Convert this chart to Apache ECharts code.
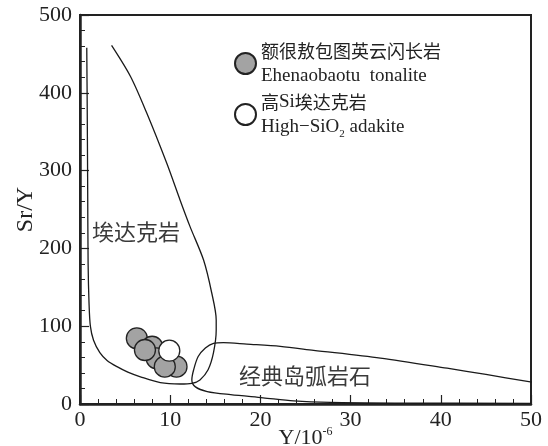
<!DOCTYPE html>
<html><head><meta charset="utf-8">
<script src="https://cdn.jsdelivr.net/npm/echarts@6/dist/echarts.min.js"></script>
<style>html,body{margin:0;padding:0;background:#fff}#c{width:548px;height:446px}</style>
</head><body><div id="c"></div>
<script>
// ---- data ----
const xTickLabels = ['0','10','20','30','40','50'];
const yTickLabels = ['0','100','200','300','400','500'];

// Ehenaobaotu tonalite (Y, Sr/Y)
const tonaliteY   = [6.3, 8.0, 8.5, 10.7, 7.2, 9.4];
const tonaliteSrY = [84.4, 73.6, 58.7, 48.0, 69.4, 48.0];

// High-SiO2 adakite
const adakiteY   = [9.9];
const adakiteSrY = [68.5];

// Adakite field boundary
const adakiteFieldY   = [0.75,0.8,0.85,0.9,1.0,1.15,1.5,2.2,3.0,4.1,5.3,6.7,8.9,11.1,12.4,13.3,14.2,14.8,15.1,15.1,14.6,13.7,12.2,11.1,9.6,7.4,5.6,3.5];
const adakiteFieldSrY = [458,380,280,180,130,100,82,66,56,48,41,35,27.5,25.7,26.6,31,44,66,95,108,143,185,228,262,310,374,421,461];

// Classic island-arc field boundary
const arcFieldY   = [50.1,45,40.7,33.3,25.9,22.2,18.5,15.9,14.8,13.9,13.1,12.6,12.4,12.8,14.1,16.7,20.3,23.7,27.8,35,50];
const arcFieldSrY = [28,38,46,59,69,74,77,79,78,72,61,44,31,22,16,12,8,4,2,1.2,0.8];

const tonaliteName = 'tonalite';
const adakiteName = 'adakite';

const zip = (a, b) => a.map((v, i) => [v, b[i]]);

const serif = 'Liberation Serif';
const cjk = 'Noto Sans CJK SC';
const ink = '#222';

const chart = echarts.init(document.getElementById('c'));
chart.setOption({
  animation: false,
  backgroundColor: '#fff',
  grid: { left: 80, right: 17, top: 15, bottom: 42, show: true, borderColor: ink, borderWidth: 2,
    backgroundColor: 'transparent', containLabel: false, outerBoundsMode: 'none' },
  xAxis: {
    type: 'value', min: 0, max: 50, interval: 10,
    axisLine: { show: true, lineStyle: { color: ink, width: 2.5 } },
    axisTick: { show: true, inside: true, length: 9, lineStyle: { color: ink, width: 1.2 } },
    minorTick: { show: true, splitNumber: 5, length: 5, lineStyle: { color: ink, width: 1 } },
    splitLine: { show: false },
    axisLabel: { color: ink, fontFamily: serif, fontSize: 22, margin: 5,
      formatter: v => xTickLabels[Math.round(v / 10)] },
    name: '{a|Y/10}{sup|-6}', nameLocation: 'middle', nameGap: 22, nameMoveOverlap: false,
    nameTextStyle: { rich: {
      a: { fontFamily: serif, fontSize: 22, color: ink, lineHeight: 24 },
      sup: { fontFamily: serif, fontSize: 12, color: ink, lineHeight: 13, verticalAlign: 'top' }
    } }
  },
  yAxis: {
    type: 'value', min: 0, max: 500, interval: 100,
    axisLine: { show: true, lineStyle: { color: ink, width: 2.5 } },
    axisTick: { show: true, inside: true, length: 9, lineStyle: { color: ink, width: 1.2 } },
    minorTick: { show: true, splitNumber: 5, length: 5, lineStyle: { color: ink, width: 1 } },
    splitLine: { show: false },
    axisLabel: { color: ink, fontFamily: serif, fontSize: 22, margin: 8,
      formatter: v => yTickLabels[Math.round(v / 100)] },
    name: 'Sr/Y', nameLocation: 'middle', nameGap: 42, nameMoveOverlap: false,
    nameTextStyle: { fontFamily: serif, fontSize: 24, color: ink }
  },
  legend: {
    data: [tonaliteName, adakiteName],
    orient: 'vertical', left: 234, top: 42, itemGap: 7, padding: 0,
    itemWidth: 21, itemHeight: 21, icon: 'circle',
    formatter: function (name) {
      if (name === tonaliteName) return '{zh|额很敖包图英云闪长岩}\n{en|Ehenaobaotu  tonalite}';
      return '{zh|高}{en|Si}{zh|埃达克岩}\n{en|High−SiO}{sub|2}{en| adakite}';
    },
    textStyle: { rich: {
      zh: { fontFamily: cjk, fontSize: 18, color: ink, lineHeight: 25 },
      en: { fontFamily: serif, fontSize: 19, color: ink, lineHeight: 25 },
      sub: { fontFamily: serif, fontSize: 11, color: ink, lineHeight: 14, verticalAlign: 'bottom' }
    } }
  },
  graphic: [
    { type: 'text', x: 136, y: 232, style: { text: '埃达克岩', font: '22px "Noto Sans CJK SC"', fill: '#3a3a3a', align: 'center', verticalAlign: 'middle' } },
    { type: 'text', x: 305, y: 376, style: { text: '经典岛弧岩石', font: '22px "Noto Sans CJK SC"', fill: '#3a3a3a', align: 'center', verticalAlign: 'middle' } }
  ],
  series: [
    { type: 'line', data: zip(adakiteFieldY, adakiteFieldSrY), smooth: 0.3, showSymbol: false, silent: true,
      lineStyle: { color: '#1a1a1a', width: 1.3 }, z: 1 },
    { type: 'line', data: zip(arcFieldY, arcFieldSrY), smooth: 0.3, showSymbol: false, silent: true,
      lineStyle: { color: '#1a1a1a', width: 1.3 }, z: 1 },
    { name: tonaliteName, type: 'scatter', data: zip(tonaliteY, tonaliteSrY), symbol: 'circle', symbolSize: 21,
      itemStyle: { color: '#a3a3a3', borderColor: ink, borderWidth: 1.3, opacity: 1 }, z: 3 },
    { name: adakiteName, type: 'scatter', data: zip(adakiteY, adakiteSrY), symbol: 'circle', symbolSize: 21,
      itemStyle: { color: '#ffffff', borderColor: ink, borderWidth: 1.3, opacity: 1 }, z: 4 }
  ]
});
</script></body></html>
